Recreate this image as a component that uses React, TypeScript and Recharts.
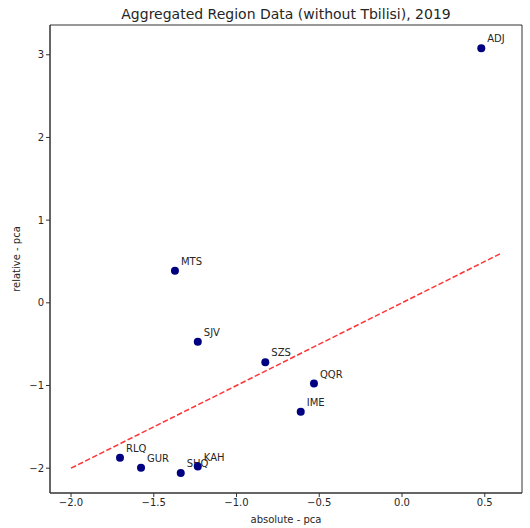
import React from "react"
import {
    ScatterChart,
    Scatter,
    XAxis,
    YAxis,
    ReferenceArea,
    ReferenceLine,
} from "recharts"

const regions = ["ADJ", "MTS", "SJV", "SZS", "QQR", "IME", "RLQ", "GUR", "SHQ", "KAH"]
const absolutePca = [0.479, -1.372, -1.234, -0.826, -0.532, -0.612, -1.704, -1.577, -1.337, -1.234]
const relativePca = [3.08, 0.387, -0.472, -0.718, -0.977, -1.316, -1.873, -1.995, -2.058, -1.98]

// dashed reference line y = x
const lineX = [-2.0, 0.6]
const lineY = [-2.0, 0.6]

const xTicks = [-2.0, -1.5, -1.0, -0.5, 0.0, 0.5]
const yTicks = [-2, -1, 0, 1, 2, 3]

const X_DOMAIN: [number, number] = [-2.127, 0.725]
const Y_DOMAIN: [number, number] = [-2.3, 3.36]

const FONT = "DejaVu Sans, sans-serif"
const TEXT = "#262626"

const points = regions.map((name, i) => ({ name, x: absolutePca[i], y: relativePca[i] }))
const segment = lineX.map((x, i) => ({ x, y: lineY[i] }))

const fmt = (v: number, digits: number) =>
    v < 0 ? "\u2212" + Math.abs(v).toFixed(digits) : v.toFixed(digits)

const PointShape = (props: any) => {
    const { cx, cy, payload } = props
    return (
        <g>
            <circle cx={cx} cy={cy} r={4} fill="#000080" />
            <text x={cx + 6} y={cy - 6} fontSize={10} fontFamily={FONT} fill={TEXT}>
                {payload.name}
            </text>
        </g>
    )
}

export default function App() {
    return (
        <div style={{ position: "absolute", left: 0, top: 0, width: 530, height: 528, background: "#fff" }}>
            <svg width={530} height={528} style={{ position: "absolute", left: 0, top: 0, pointerEvents: "none" }}>
                <text x={286} y={19} textAnchor="middle" fontSize={14} fontFamily={FONT} fill={TEXT}>
                    Aggregated Region Data (without Tbilisi), 2019
                </text>
                <text x={286} y={523} textAnchor="middle" fontSize={10} fontFamily={FONT} fill={TEXT}>
                    absolute - pca
                </text>
                <text
                    x={20}
                    y={259}
                    textAnchor="middle"
                    fontSize={10}
                    fontFamily={FONT}
                    fill={TEXT}
                    transform="rotate(-90 20 259)"
                >
                    relative - pca
                </text>
            </svg>
            <ScatterChart width={530} height={528} margin={{ top: 25, right: 8, bottom: 0, left: 0 }}>
                <XAxis
                    type="number"
                    dataKey="x"
                    domain={X_DOMAIN}
                    ticks={xTicks}
                    allowDataOverflow
                    height={35}
                    tickSize={4}
                    tickFormatter={(v: number) => fmt(v, 1)}
                    tick={{ fontSize: 10, fontFamily: FONT, fill: TEXT }}
                    stroke="#333"
                />
                <YAxis
                    type="number"
                    dataKey="y"
                    domain={Y_DOMAIN}
                    ticks={yTicks}
                    allowDataOverflow
                    width={50}
                    tickSize={4}
                    tickFormatter={(v: number) => fmt(v, 0)}
                    tick={{ fontSize: 10, fontFamily: FONT, fill: TEXT }}
                    stroke="#333"
                />
                <ReferenceArea
                    x1={X_DOMAIN[0]}
                    x2={X_DOMAIN[1]}
                    y1={Y_DOMAIN[0]}
                    y2={Y_DOMAIN[1]}
                    fill="none"
                    stroke="#333"
                    strokeWidth={1}
                />
                <ReferenceLine
                    segment={segment}
                    stroke="#ff3333"
                    strokeWidth={1.5}
                    strokeDasharray="5.5 2.4"
                />
                <Scatter data={points} shape={PointShape} isAnimationActive={false} />
            </ScatterChart>
        </div>
    )
}
